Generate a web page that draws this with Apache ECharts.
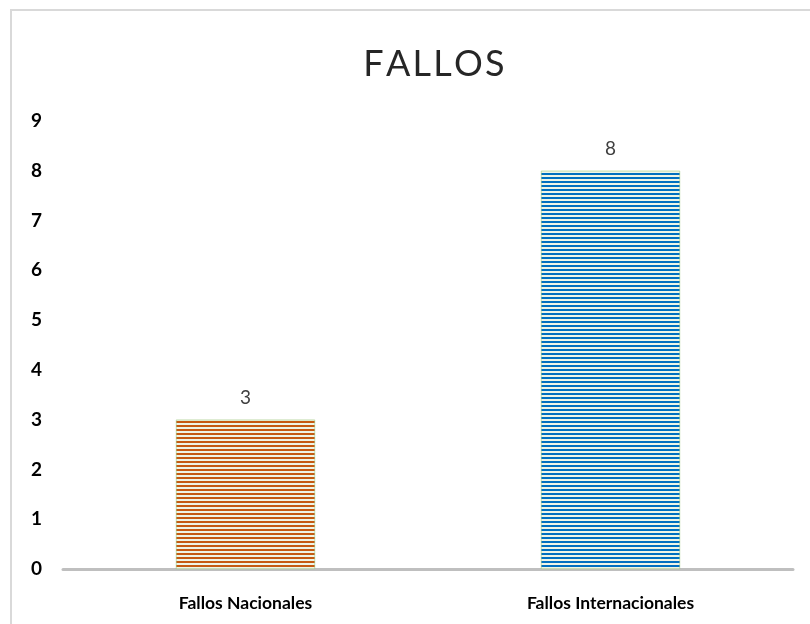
<!DOCTYPE html>
<html>
<head>
<meta charset="utf-8">
<script src="https://cdn.jsdelivr.net/npm/echarts@6/dist/echarts.min.js"></script>
<style>
  html, body { margin: 0; padding: 0; background: #fff; }
  #main { width: 810px; height: 624px; }
</style>
</head>
<body>
<div id="main"></div>
<script>
// datos del gráfico
const categorias = ['Fallos Nacionales', 'Fallos Internacionales'];
const valores = [3, 8];
const colores = ['#c55a11', '#0070c0'];

// patrón de rayas horizontales
function rayas(color) {
  const c = document.createElement('canvas');
  c.width = 4;
  c.height = 4;
  const ctx = c.getContext('2d');
  ctx.fillStyle = '#eef5e6';
  ctx.fillRect(0, 0, 4, 4);
  ctx.fillStyle = color;
  ctx.fillRect(0, 1, 4, 2);
  return { image: c, repeat: 'repeat' };
}

const myChart = echarts.init(document.getElementById('main'));
const option = {
  animation: false,
  graphic: [{
    type: 'rect',
    shape: { x: 11, y: 10, width: 900, height: 700 },
    style: { fill: 'none', stroke: '#d9d9d9', lineWidth: 2 },
    silent: true
  }],
  title: {
    text: 'F\u200AA\u200AL\u200AL\u200AO\u200AS',
    left: 429,
    textAlign: 'center',
    top: 41,
    textStyle: { fontFamily: 'Lato', fontSize: 36, fontWeight: 'normal', color: '#262626' }
  },
  grid: { left: 63, right: 17, top: 121, bottom: 55 },
  xAxis: {
    type: 'category',
    data: categorias,
    axisLine: { lineStyle: { color: '#bfbfbf', width: 3 } },
    axisTick: { show: false },
    axisLabel: { margin: 25, fontFamily: 'Lato', fontSize: 17.5, fontWeight: 'bold', color: '#000' }
  },
  yAxis: {
    type: 'value',
    min: 0,
    max: 9,
    interval: 1,
    splitLine: { show: false },
    axisLabel: { margin: 21, fontFamily: 'Lato', fontSize: 19, fontWeight: 'bold', color: '#000' }
  },
  series: [{
    type: 'bar',
    barWidth: 139,
    data: valores.map((v, i) => ({
      value: v,
      itemStyle: { color: rayas(colores[i]), borderColor: '#8fbf6a', borderWidth: 0.5 }
    })),
    label: {
      show: true,
      position: 'top',
      distance: 12,
      fontFamily: 'Lato',
      fontSize: 19,
      color: '#404040'
    }
  }]
};
myChart.setOption(option);
</script>
</body>
</html>
